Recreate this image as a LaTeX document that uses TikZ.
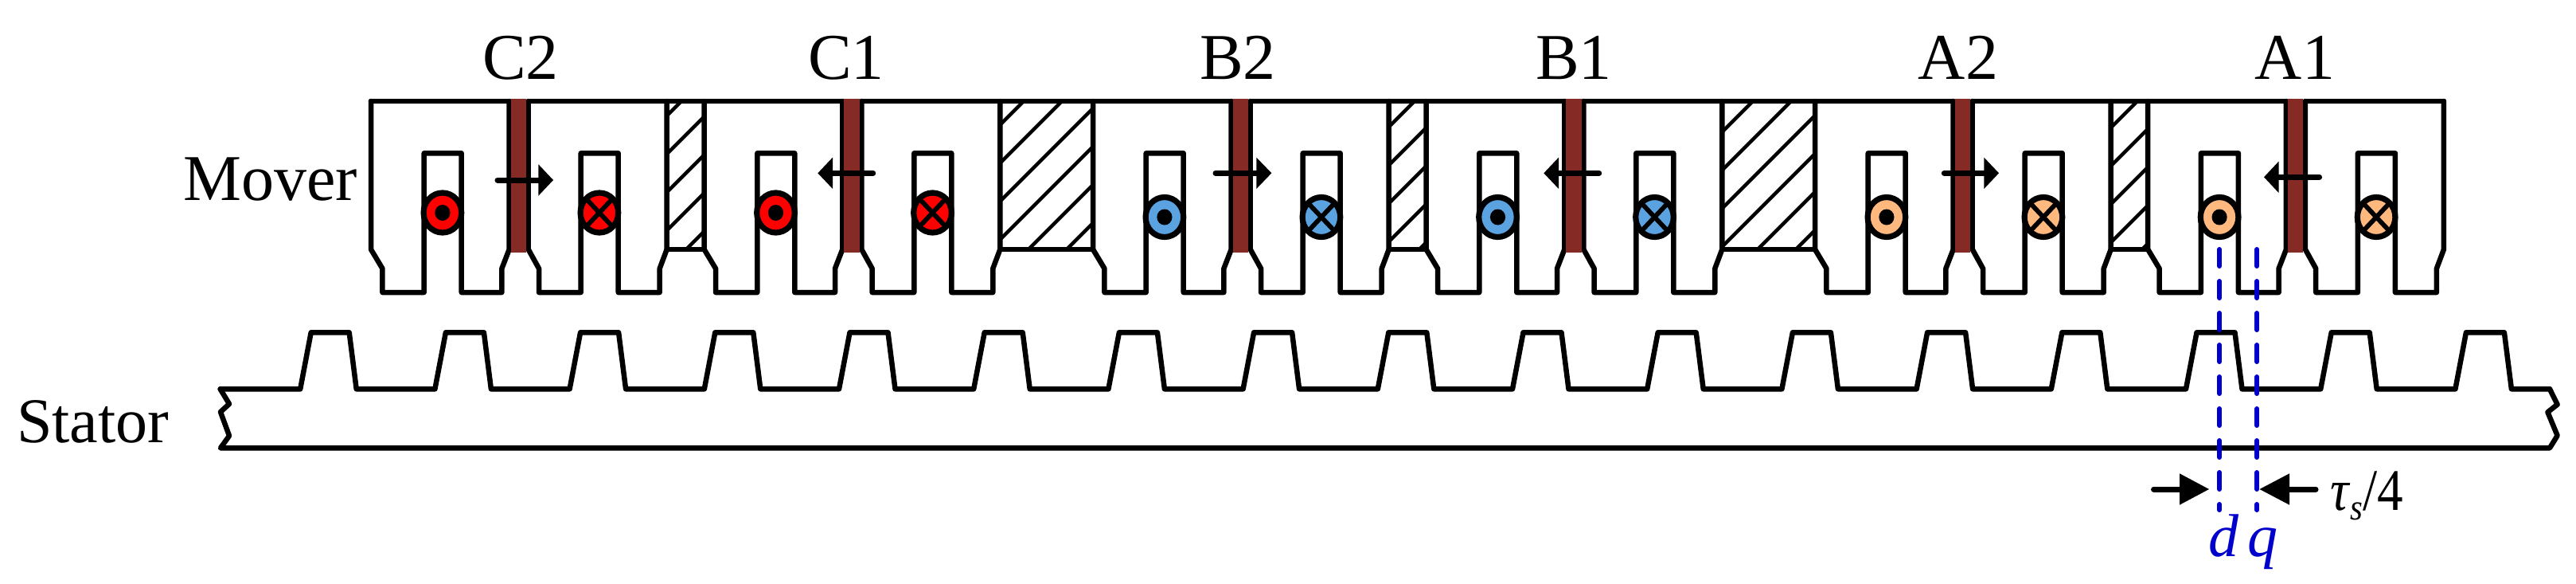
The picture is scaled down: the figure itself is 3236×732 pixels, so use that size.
\documentclass[tikz,border=0pt]{standalone}
\usepackage{fontspec}
\setmainfont{Liberation Serif}
\definecolor{brownbar}{HTML}{862A25}
\definecolor{phred}{HTML}{FF0000}
\definecolor{phblue}{HTML}{5BA3E0}
\definecolor{phorange}{HTML}{FFB97F}
\definecolor{dqblue}{HTML}{0000CC}
\tikzset{
  outline/.style={draw=black,line width=6.5pt,line join=round,line cap=round},
  coil/.style={draw=black,line width=7.2pt},
  hatchline/.style={draw=black,line width=4.5pt},
  forcebar/.style={draw=black,line width=7pt,line cap=round},
  dqline/.style={draw=dqblue,line width=6pt,line cap=round,dash pattern=on 21pt off 19pt},
  lbl/.style={anchor=base,inner sep=0pt,font=\fontsize{82}{84}\selectfont}
}
% left edge of module, colour, circle y
\newcommand{\drmodule}[3]{%
  \begin{scope}[shift={(#1,0)}]
    \draw[outline] (0,127) -- (0,313) -- (14.4,337) -- (14.4,367) -- (66.7,367) -- (66.7,192.3)
      -- (113.7,192.3) -- (113.7,367) -- (164.4,367) -- (164.4,337) -- (173.7,313) -- (173.7,127);
    \draw[outline] (197.7,127) -- (197.7,313) -- (211,337) -- (211,367) -- (263.7,367) -- (263.7,192.3)
      -- (310.7,192.3) -- (310.7,367) -- (362.7,367) -- (362.7,337) -- (371.7,313) -- (371.7,127);
    \fill[brownbar] (175.8,124) rectangle (195,317);
    \filldraw[coil,fill=#2] (89.9,#3) ellipse [x radius=23.8,y radius=25];
    \fill[black] (89.9,#3) ellipse [x radius=9.6,y radius=10];
    \filldraw[coil,fill=#2] (286.9,#3) ellipse [x radius=23.8,y radius=25];
    \draw[black,line width=5.8pt] ([shift={(-17,-18)}]286.9,#3) -- ([shift={(17,18)}]286.9,#3);
    \draw[black,line width=5.8pt] ([shift={(-17,18)}]286.9,#3) -- ([shift={(17,-18)}]286.9,#3);
  \end{scope}%
}
% tail x, base x, tip x, y
\newcommand{\forcearrow}[4]{%
  \draw[forcebar] (#1,#4) -- (#2,#4);
  \fill[black] (#2,#4-19.7) -- (#3,#4) -- (#2,#4+19.7) -- cycle;%
}
% left, right, offset of x+y for hatch lines
\newcommand{\magnet}[3]{%
  \begin{scope}
    \clip (#1,127) rectangle (#2,312);
    \foreach \k in {-7,...,7} {
      \draw[hatchline] (#1-100,#3+48*\k-#1+100) -- (#2+100,#3+48*\k-#2-100);
    }
  \end{scope}
  \draw[outline] (#1,313) -- (#2,313);%
}
\begin{document}
\begin{tikzpicture}[x=1pt,y=-1pt]
\useasboundingbox (0,0) rectangle (3236,732);
\fill[white] (0,0) rectangle (3236,732);
% magnets
\magnet{837.7}{884.6}{1079}
\magnet{1256.3}{1373}{1557}
\magnet{1744.7}{1791.6}{2000}
\magnet{2163.3}{2280}{2425}
\magnet{2651.7}{2698.2}{2860}
% top line
\draw[outline] (466,127) -- (639.7,127);
\draw[outline] (663.7,127) -- (1058.3,127);
\draw[outline] (1082.3,127) -- (1546.7,127);
\draw[outline] (1570.7,127) -- (1965.3,127);
\draw[outline] (1989.3,127) -- (2453.7,127);
\draw[outline] (2477.7,127) -- (2871.9,127);
\draw[outline] (2895.9,127) -- (3069.9,127);
% modules
\drmodule{466}{phred}{267}
\drmodule{884.6}{phred}{267}
\drmodule{1373}{phblue}{272.5}
\drmodule{1791.6}{phblue}{272.5}
\drmodule{2280}{phorange}{272.5}
\drmodule{2698.2}{phorange}{272.5}
% force arrows
\forcearrow{625}{676.4}{695}{226}
\forcearrow{1096.7}{1046}{1027.3}{217.3}
\forcearrow{1527}{1578.3}{1597.3}{217.3}
\forcearrow{2008.7}{1958}{1939.3}{217.3}
\forcearrow{2442.3}{2492.3}{2511}{217.3}
\forcearrow{2913.6}{2862.5}{2844}{222.3}
% stator
\draw[outline] (276.7,488.3) -- (288,507) -- (277,517) -- (288,547) -- (277,562.3) -- (3203,562.3)
  -- (3212.6,546.7) -- (3200.4,517.3) -- (3212.6,507.7) -- (3203,488.3);
\draw[outline] (276.7,488.3)
  \foreach \t in {0,...,16} { -- ({390.7+169.2*\t-13.5},488.3) -- ({390.7+169.2*\t},417.3) -- ({390.7+169.2*\t+48},417.3) -- ({390.7+169.2*\t+57},488.3) }
  -- (3203,488.3);
% dq axes
\coordinate (dtop) at (2788.2,313);
\coordinate (dbot) at (2788.2,640);
\coordinate (qtop) at (2835.3,313);
\coordinate (qbot) at (2835.3,640);
\draw[dqline] (dtop) -- (dbot);
\draw[dqline] (qtop) -- (qbot);
% pitch arrows
\forcearrow{2705.5}{2738}{2775}{614}
\forcearrow{2909}{2876}{2838.5}{614}
% text
\node[lbl] (labC2) at (654,99) {C2};
\node[lbl] (labC1) at (1063,99) {C1};
\node[lbl] (labB2) at (1555,99) {B2};
\node[lbl] (labB1) at (1977,99) {B1};
\node[lbl] (labA2) at (2460,99) {A2};
\node[lbl] (labA1) at (2883,99) {A1};
\node[lbl,anchor=base west] (mover) at (230,251) {Mover};
\node[lbl,anchor=base west,font=\fontsize{80}{82}\selectfont] (stator) at (21,555) {Stator};
\node[lbl,anchor=base west,transform shape,xscale=0.88,font=\fontsize{74}{76}\selectfont] (tau) at (2927,640) {\textit{τ}\raisebox{-12pt}{\fontsize{46}{48}\selectfont\textit{s}}/4};
\node[lbl,text=dqblue,font=\fontsize{76}{78}\selectfont\itshape] (dlabel) at (2793,698) {d};
\node[lbl,text=dqblue,font=\fontsize{76}{78}\selectfont\itshape] (qlabel) at (2842,698) {q};
\end{tikzpicture}
\end{document}
